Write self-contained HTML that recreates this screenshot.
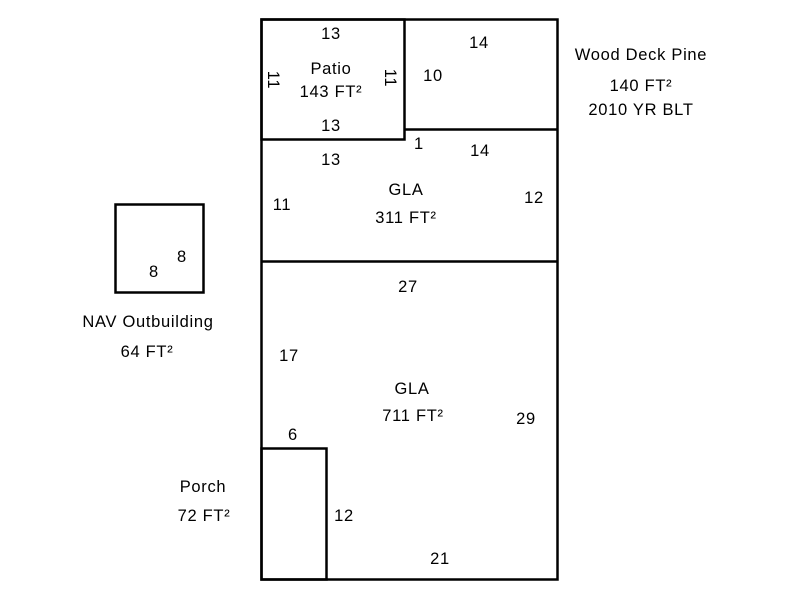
<!DOCTYPE html>
<html><head><style>body{margin:0;background:#fff}svg{display:block}text{font-family:"Liberation Sans",Arial,sans-serif;font-size:16.5px;letter-spacing:0.7px;fill:#000}</style></head>
<body>
<svg width="800" height="600" viewBox="0 0 800 600">
<g fill="none" stroke="#000" stroke-width="2.5">
<rect x="261.5" y="19.5" width="296" height="560"/>
<rect x="261.5" y="19.5" width="143" height="120"/>
<line x1="404" y1="129.5" x2="557" y2="129.5"/>
<line x1="261" y1="261.5" x2="557" y2="261.5"/>
<rect x="261.5" y="448.5" width="65" height="131"/>
<rect x="115.5" y="204.5" width="88" height="88"/>
</g>
<g text-anchor="middle">
<text x="331" y="39">13</text>
<text x="331" y="74">Patio</text>
<text x="331" y="97">143 FT²</text>
<text x="331" y="131">13</text>
<text transform="translate(268,80) rotate(90)">11</text>
<text transform="translate(385,78) rotate(90)">11</text>
<text x="479" y="48">14</text>
<text x="433" y="81">10</text>
<text x="641" y="60">Wood Deck Pine</text>
<text x="641" y="91">140 FT²</text>
<text x="641" y="115">2010 YR BLT</text>
<text x="331" y="165">13</text>
<text x="419" y="149">1</text>
<text x="480" y="156">14</text>
<text x="406" y="195">GLA</text>
<text x="406" y="223">311 FT²</text>
<text x="282" y="210">11</text>
<text x="534" y="203">12</text>
<text x="408" y="292">27</text>
<text x="289" y="361">17</text>
<text x="412" y="394">GLA</text>
<text x="413" y="421">711 FT²</text>
<text x="526" y="424">29</text>
<text x="293" y="440">6</text>
<text x="344" y="521">12</text>
<text x="440" y="564">21</text>
<text x="203" y="492">Porch</text>
<text x="204" y="521">72 FT²</text>
<text x="148" y="327">NAV Outbuilding</text>
<text x="147" y="357">64 FT²</text>
<text x="182" y="262">8</text>
<text x="154" y="277">8</text>
</g>
</svg>
</body></html>
